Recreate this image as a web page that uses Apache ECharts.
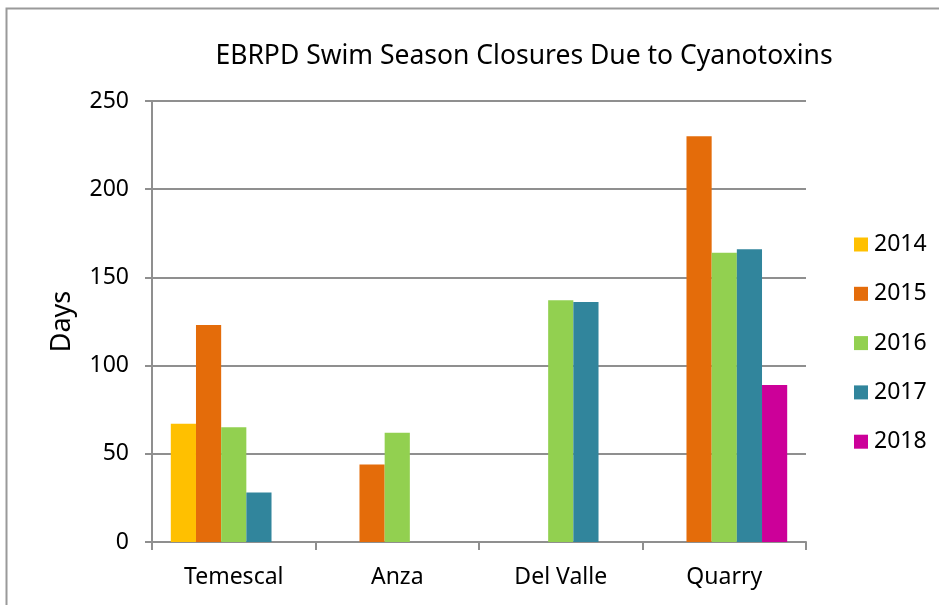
<!DOCTYPE html>
<html>
<head>
<meta charset="utf-8">
<script src="https://cdn.jsdelivr.net/npm/echarts@6/dist/echarts.min.js"></script>
<style>
  html, body { margin: 0; padding: 0; background: #fff; }
  #main { width: 939px; height: 605px; }
</style>
</head>
<body>
<div id="main"></div>
<script>
// 数据
const parks = ['Temescal', 'Anza', 'Del Valle', 'Quarry']
const years = ['2014', '2015', '2016', '2017', '2018']
const days2014 = [67, null, null, null]
const days2015 = [123, 44, null, 230]
const days2016 = [65, 62, 137, 164]
const days2017 = [28, null, 136, 166]
const days2018 = [null, null, null, 89]
const yTicks = [0, 50, 100, 150, 200, 250]

const colors = ['#FFC000', '#E46C0A', '#92D050', '#31859C', '#CC0099']
const seriesData = [days2014, days2015, days2016, days2017, days2018]

const font = 'Noto Sans'
const grey = '#8f8f8f'

const myChart = echarts.init(document.querySelector('#main'))

const option = {
  animation: false,
  textStyle: { fontFamily: font },
  // 外框
  graphic: [{
    type: 'rect',
    shape: { x: 6.5, y: 8.5, width: 960, height: 620 },
    style: { fill: 'none', stroke: '#9a9a9a', lineWidth: 2 }
  }],
  title: {
    text: 'EBRPD Swim Season Closures Due to Cyanotoxins',
    left: 519,
    textAlign: 'center',
    top: 38,
    textStyle: { fontFamily: font, fontSize: 26.5, fontWeight: 'normal', color: '#000' }
  },
  legend: {
    orient: 'vertical',
    left: 849,
    top: 228,
    itemWidth: 14,
    itemHeight: 14,
    itemGap: 26.3,
    icon: 'rect',
    textStyle: { fontFamily: font, fontSize: 23, color: '#000', lineHeight: 22, padding: [0, 0, 0, 1] },
    data: years
  },
  grid: { left: 152, right: 133, top: 101, bottom: 63 },
  xAxis: {
    type: 'category',
    data: parks,
    axisLine: { lineStyle: { color: grey, width: 2 } },
    axisTick: { show: true, length: 8, lineStyle: { color: grey, width: 2 } },
    axisLabel: { color: '#000', fontSize: 23, margin: 24, fontFamily: font }
  },
  yAxis: {
    type: 'value',
    min: yTicks[0],
    max: yTicks[yTicks.length - 1],
    interval: 50,
    name: 'Days',
    nameLocation: 'middle',
    nameGap: 76,
    nameTextStyle: { color: '#000', fontSize: 27, fontFamily: font },
    axisLine: { show: true, lineStyle: { color: grey, width: 2 } },
    axisTick: { show: true, length: 7, lineStyle: { color: grey, width: 2 } },
    axisLabel: { color: '#000', fontSize: 23, margin: 23, fontFamily: font },
    splitLine: { lineStyle: { color: grey, width: 2 } }
  },
  series: years.map((y, i) => ({
    name: y,
    type: 'bar',
    data: seriesData[i],
    barGap: '0%',
    barCategoryGap: '23%',
    itemStyle: { color: colors[i] }
  }))
}

myChart.setOption(option)
</script>
</body>
</html>
